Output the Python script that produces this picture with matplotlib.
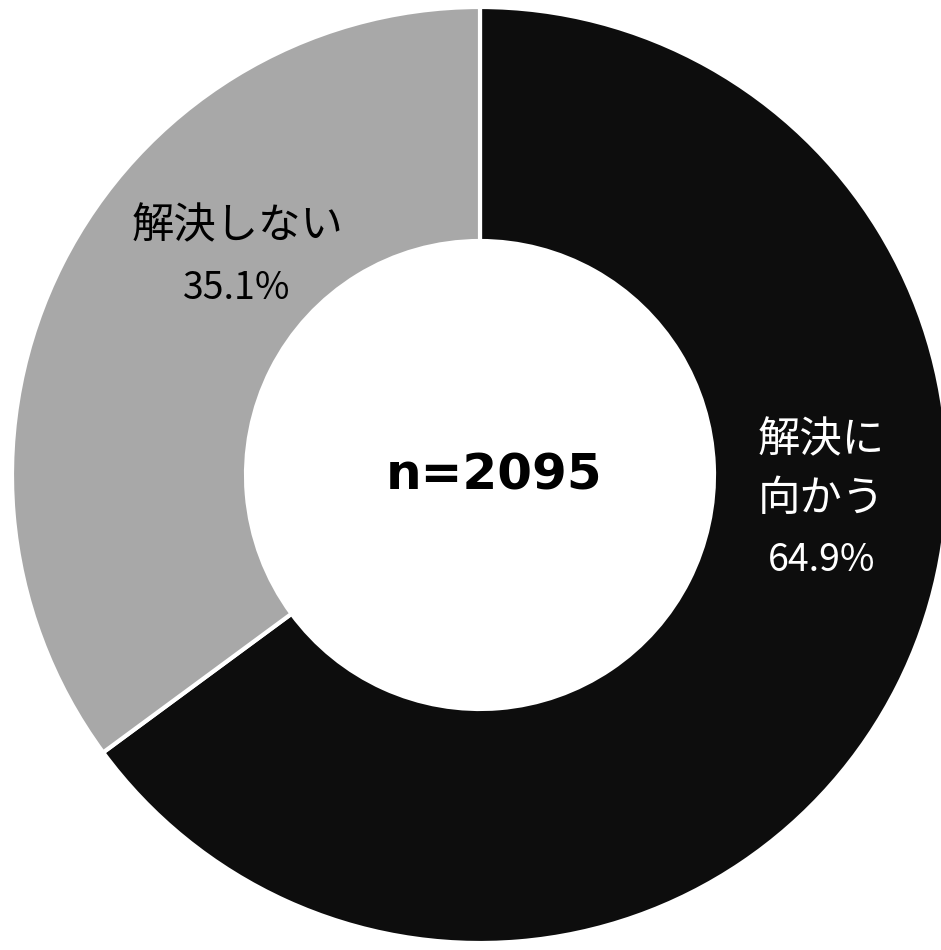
import matplotlib
matplotlib.use("Agg")
import matplotlib.pyplot as plt

plt.rcParams['font.family'] = ['Noto Sans CJK JP', 'DejaVu Sans']

labels = ["解決に\n向かう", "解決しない"]
shares = [64.9, 35.1]
colors = ['#0d0d0d', '#a8a8a8']
text_colors = ['white', 'black']
n_total = 2095

fig = plt.figure(figsize=(9.41, 9.50), dpi=100)
ax = fig.add_axes([0, 0, 1, 1])

wedges, _ = ax.pie(shares, colors=colors, startangle=90, counterclock=False,
                   radius=1.0, wedgeprops=dict(width=0.5, edgecolor='white', linewidth=3))

# label positions (data coords, pie radius = 1): name centre, percent centre
name_pos = [(0.729, 0.012), (-0.519, 0.532)]
pct_pos = [(0.729, -0.183), (-0.519, 0.398)]
for lab, v, npos, ppos, tc in zip(labels, shares, name_pos, pct_pos, text_colors):
    ax.text(npos[0], npos[1], lab, ha='center', va='center',
            color=tc, fontsize=30.5, linespacing=1.42)
    ax.text(ppos[0], ppos[1], f"{v}%", ha='center', va='center',
            color=tc, fontsize=27)

ax.text(0.03, 0.0, f"n={n_total}", ha='center', va='center',
        fontsize=36, fontweight='bold', family='DejaVu Sans')

ax.set_aspect('auto')
ax.set_xlim(-480 / 468, (941 - 480) / 468)
ax.set_ylim(-475 / 468, 475 / 468)
ax.axis('off')

fig.savefig('out.png', dpi=100, facecolor='white')
